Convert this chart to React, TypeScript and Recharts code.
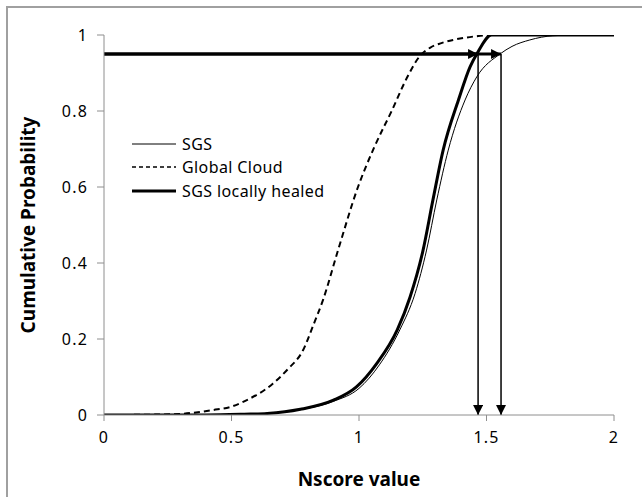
import { LineChart, Line, XAxis, YAxis, Label } from 'recharts'

const sgsX = [0, 0.4, 0.55, 0.64, 0.77, 0.9, 1.0, 1.08, 1.16, 1.22, 1.265, 1.305, 1.35, 1.416, 1.462, 1.553, 1.6, 1.67, 1.76, 1.85, 2]
const sgsY = [0, 0, 0.002, 0.004, 0.014, 0.036, 0.07, 0.132, 0.224, 0.32, 0.434, 0.566, 0.697, 0.829, 0.89, 0.95, 0.97, 0.987, 0.998, 1, 1]

const cloudX = [0, 0.2, 0.3, 0.427, 0.5, 0.55, 0.663, 0.72, 0.781, 0.82, 0.859, 0.918, 0.996, 1.06, 1.128, 1.19, 1.239, 1.28, 1.32, 1.369, 1.45, 1.52, 2]
const cloudY = [0, 0.001, 0.003, 0.013, 0.022, 0.036, 0.083, 0.12, 0.171, 0.235, 0.303, 0.434, 0.6, 0.705, 0.8, 0.89, 0.945, 0.967, 0.978, 0.987, 0.996, 1, 1]

const healedX = [0, 0.4, 0.55, 0.64, 0.77, 0.9, 0.99, 1.07, 1.15, 1.2, 1.25, 1.29, 1.33, 1.39, 1.436, 1.462, 1.52, 2]
const healedY = [0, 0, 0.002, 0.004, 0.015, 0.039, 0.074, 0.136, 0.224, 0.31, 0.43, 0.566, 0.697, 0.829, 0.917, 0.95, 1, 1]

// 95% level
const level = 0.95
const healedAt95 = 1.467
const sgsAt95 = 1.557

const xTicks = [0, 0.5, 1, 1.5, 2]
const yTicks = [0, 0.2, 0.4, 0.6, 0.8, 1]

const zip = (xs: number[], ys: number[]) => xs.map((x, i) => ({ x, y: ys[i] }))

const sgs = zip(sgsX, sgsY)
const cloud = zip(cloudX, cloudY)
const healed = zip(healedX, healedY)

const arrowH1 = [{ x: 0, y: level }, { x: healedAt95, y: level }]
const arrowH2 = [{ x: 0, y: level }, { x: sgsAt95, y: level }]
const arrowV1 = [{ x: healedAt95, y: level }, { x: healedAt95, y: 0 }]
const arrowV2 = [{ x: sgsAt95, y: level }, { x: sgsAt95, y: 0 }]

const font = '"Noto Sans", "Open Sans", sans-serif'
const axisGrey = '#8e8e8e'

const legendItems = [
  { name: 'SGS', width: 1, dash: undefined },
  { name: 'Global Cloud', width: 1.6, dash: '4 3' },
  { name: 'SGS locally healed', width: 3, dash: undefined },
]

function ChartLegend() {
  return (
    <div style={{ position: 'absolute', left: 131, top: 132, fontFamily: font, fontSize: 16, letterSpacing: 0.4, color: '#000' }}>
      {legendItems.map((it) => (
        <div key={it.name} style={{ display: 'flex', alignItems: 'center', height: 23.5 }}>
          <svg width={46} height={10} style={{ marginRight: 5 }}>
            <line x1={1} y1={5} x2={45} y2={5} stroke="#000" strokeWidth={it.width} strokeDasharray={it.dash} />
          </svg>
          <span>{it.name}</span>
        </div>
      ))}
    </div>
  )
}

function YTitle({ viewBox }: any) {
  const cy = viewBox.y + viewBox.height / 2
  return (
    <text
      x={28}
      y={cy}
      transform={`rotate(-90, 28, ${cy})`}
      textAnchor="middle"
      dominantBaseline="central"
      fontFamily={font}
      fontWeight="bold"
      fontSize={19}
      fill="#000"
    >
      Cumulative Probability
    </text>
  )
}

export default function App() {
  const tick = { fontFamily: font, fontSize: 16, letterSpacing: 1.2, fill: '#000' }
  return (
    <div style={{ position: 'absolute', left: 0, top: 0, width: 642, height: 497, background: '#fff', overflow: 'hidden' }}>
      <svg width={0} height={0} style={{ position: 'absolute' }}>
        <defs>
          <marker id="arrowHead" viewBox="0 0 10 10" refX={10} refY={5} markerWidth={10} markerHeight={10}
            markerUnits="userSpaceOnUse" orient="auto">
            <path d="M0,0 L10,5 L0,10 z" fill="#000" />
          </marker>
        </defs>
      </svg>
      <div style={{ position: 'absolute', left: 6, top: 6, width: 700, height: 600, border: '2px solid #a0a0a0', boxSizing: 'border-box' }} />
      <LineChart width={642} height={497} margin={{ top: 35, right: 28, bottom: 0, left: 0 }} style={{ position: 'absolute', left: 0, top: 0 }}>
        <XAxis
          type="number"
          dataKey="x"
          domain={[0, 2]}
          ticks={xTicks}
          allowDataOverflow
          height={82}
          stroke={axisGrey}
          tickSize={6}
          tickMargin={11}
          tick={tick}
        >
          <Label value="Nscore value" position="insideBottom" offset={11}
            style={{ fontFamily: font, fontWeight: 'bold', fontSize: 19, fill: '#000' }} />
        </XAxis>
        <YAxis
          type="number"
          dataKey="y"
          domain={[0, 1]}
          ticks={yTicks}
          allowDataOverflow
          width={104}
          stroke={axisGrey}
          tickSize={7}
          tickMargin={9}
          tick={tick}
        >
          <Label content={YTitle} />
        </YAxis>
        <Line data={sgs} dataKey="y" name="SGS" type="monotone" stroke="#000" strokeWidth={1} dot={false} isAnimationActive={false} />
        <Line data={cloud} dataKey="y" name="Global Cloud" type="monotone" stroke="#000" strokeWidth={2} strokeDasharray="6 4" dot={false} isAnimationActive={false} />
        <Line data={healed} dataKey="y" name="SGS locally healed" type="monotone" stroke="#000" strokeWidth={3} dot={false} isAnimationActive={false} />
        <Line data={arrowH2} dataKey="y" type="linear" stroke="#000" strokeWidth={3} dot={false} markerEnd="url(#arrowHead)" isAnimationActive={false} />
        <Line data={arrowH1} dataKey="y" type="linear" stroke="#000" strokeWidth={3} dot={false} markerEnd="url(#arrowHead)" isAnimationActive={false} />
        <Line data={arrowV1} dataKey="y" type="linear" stroke="#000" strokeWidth={1.5} dot={false} markerEnd="url(#arrowHead)" isAnimationActive={false} />
        <Line data={arrowV2} dataKey="y" type="linear" stroke="#000" strokeWidth={1.5} dot={false} markerEnd="url(#arrowHead)" isAnimationActive={false} />
      </LineChart>
      <ChartLegend />
    </div>
  )
}
